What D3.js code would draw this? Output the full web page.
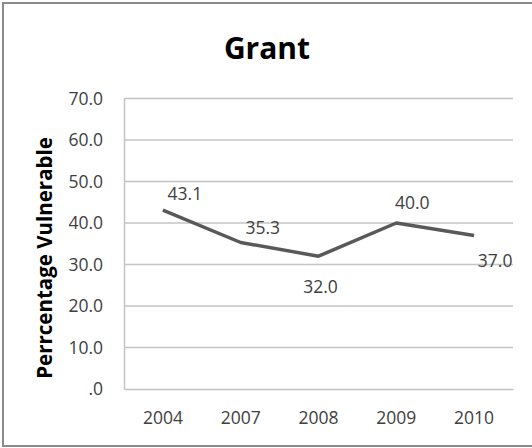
<!DOCTYPE html>
<html>
<head>
<meta charset="utf-8">
<script src="https://cdn.jsdelivr.net/npm/d3@7"></script>
<style>
html,body{margin:0;padding:0;background:#fff;}
svg{display:block;}
</style>
</head>
<body>
<svg id="c" width="532" height="448"></svg>
<script>
const title = "Grant";
const yTitle = "Perrcentage Vulnerable";
const categories = ["2004", "2007", "2008", "2009", "2010"];
const values = [43.1, 35.3, 32.0, 40.0, 37.0];
const yTicks = [0, 10, 20, 30, 40, 50, 60, 70];

const svg = d3.select("#c");
const W = 532, H = 448;
const m = {left: 124, right: 19, top: 98.5, bottom: 59};
const font = "'Open Sans', Lato, sans-serif";

svg.append("rect").attr("x", 3).attr("y", 3).attr("width", W + 2).attr("height", 443)
  .attr("fill", "#fff").attr("stroke", "#8a8a8a").attr("stroke-width", 2);

const x = d3.scaleBand().domain(categories).range([m.left, W - m.right]);
const y = d3.scaleLinear().domain([0, 70]).range([H - m.bottom, m.top]);

// gridlines
svg.append("g").selectAll("line").data(yTicks.filter(t => t > 0)).join("line")
  .attr("x1", m.left).attr("x2", W - m.right)
  .attr("y1", d => y(d)).attr("y2", d => y(d))
  .attr("stroke", "#c4c4c4").attr("stroke-width", 1.5);

// y axis
const ya = d3.axisLeft(y).tickValues(yTicks).tickSize(0).tickPadding(21)
  .tickFormat(d => d === 0 ? ".0" : d3.format(".1f")(d));
const gy = svg.append("g").attr("transform", `translate(${m.left},0)`).call(ya);
gy.select(".domain").attr("stroke", "#c4c4c4").attr("stroke-width", 1.5);
gy.selectAll("text").attr("font-family", font).attr("font-size", 17.5).attr("fill", "#404040");

// x axis
const xa = d3.axisBottom(x).tickSize(0).tickPadding(23);
const gx = svg.append("g").attr("transform", `translate(0,${H - m.bottom})`).call(xa);
gx.select(".domain").attr("stroke", "#c4c4c4").attr("stroke-width", 1.5);
gx.selectAll("text").attr("font-family", font).attr("font-size", 17.5).attr("fill", "#404040");

// line
const line = d3.line().x((d, i) => x(categories[i]) + x.bandwidth() / 2).y(d => y(d));
svg.append("path").datum(values).attr("d", line)
  .attr("fill", "none").attr("stroke", "#595959").attr("stroke-width", 3.5)
  .attr("stroke-linejoin", "round");

// data labels (placement offsets relative to point)
const place = [[22, -16], [22, -15], [2, 31], [16, -20], [21, 25]];
svg.append("g").selectAll("text").data(values).join("text")
  .attr("x", (d, i) => x(categories[i]) + x.bandwidth() / 2 + place[i][0])
  .attr("y", (d, i) => y(d) + place[i][1])
  .attr("dy", "0.35em").attr("text-anchor", "middle")
  .attr("font-family", font).attr("font-size", 17.5).attr("fill", "#404040")
  .text(d => d3.format(".1f")(d));

// title
svg.append("text").attr("x", 267).attr("y", 59).attr("text-anchor", "middle")
  .attr("font-family", font).attr("font-weight", "bold").attr("font-size", 30)
  .attr("fill", "#000").text(title);

// y title
svg.append("text").attr("transform", "translate(45,258) rotate(-90)")
  .attr("text-anchor", "middle").attr("dy", "0.35em")
  .attr("font-family", font).attr("font-weight", "bold").attr("font-size", 20.5)
  .attr("fill", "#000").text(yTitle);
</script>
</body>
</html>
